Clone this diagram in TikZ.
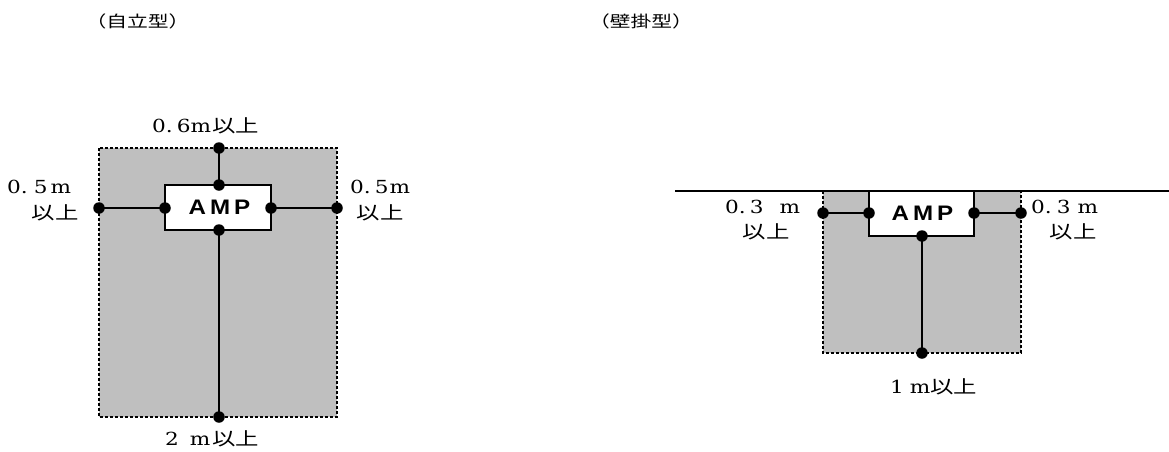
\documentclass[tikz,border=0pt]{standalone}
\usepackage{fontspec}
\setmainfont[FakeStretch=1.2]{DejaVu Serif}
\newfontfamily\jp[FakeStretch=1.3]{Noto Sans CJK JP}
\newfontfamily\ampfont[FakeStretch=1.15]{Liberation Sans}
\definecolor{zone}{RGB}{191,191,191}
\newcommand\jpL{\jp\fontsize{18}{22}\selectfont}
\begin{document}
\begin{tikzpicture}[x=1pt,y=-1pt,
  dot/.style={circle,fill=black,inner sep=0pt,minimum size=11.5pt},
  conn/.style={line width=2pt},
  zoneedge/.style={draw=black,line width=1.3pt,dash pattern=on 3pt off 2pt},
  ampbox/.style={draw=black,fill=white,line width=1.6pt,inner sep=0pt},
  amptext/.style={font=\ampfont\bfseries\fontsize{21}{24}\selectfont,inner sep=0pt},
  lbl/.style={font=\fontsize{18}{20}\selectfont,inner sep=0pt,anchor=base west},
  jl/.style={font=\jpL,inner sep=0pt},
  ttl/.style={font=\jp\fontsize{16}{20}\selectfont,inner sep=0pt},
]
\useasboundingbox (0,0) rectangle (1169,451);

% titles
\node[ttl] (title1) at (137.5,21) {（自立型）};
\node[ttl] (title2) at (641,21) {（壁掛型）};

% ---------- left: free standing ----------
\fill[zone] (99,148) rectangle (337,417);
\draw[zoneedge] (99,148) rectangle (337,417);
\node[ampbox,minimum width=106pt,minimum height=45pt] (amp1) at (218,207.5) {};
\node[amptext] (amp1t) at (219.5,207.5) {A\hspace{4pt}M\hspace{4pt}P};

\node[dot] (L1top) at (219,148) {};
\node[dot] (L1ampT) at (219,185) {};
\node[dot] (L1ampB) at (219,230) {};
\node[dot] (L1bot) at (219,417) {};
\node[dot] (L1left) at (99,208) {};
\node[dot] (L1ampL) at (165,208) {};
\node[dot] (L1ampR) at (271,208) {};
\node[dot] (L1right) at (337,208) {};

\draw[conn] (L1top.center) -- (L1ampT.center);
\draw[conn] (L1ampB.center) -- (L1bot.center);
\draw[conn] (L1left.center) -- (L1ampL.center);
\draw[conn] (L1ampR.center) -- (L1right.center);

\node[lbl] (lt) at (152,132) {0.\hspace{4pt}6m\hspace{1pt}{\jpL 以上}};
\node[lbl] (ll1) at (7,193) {0.\hspace{6pt}5\hspace{3pt}m};
\node[jl] (ll2) at (55,213) {以上};
\node[lbl] (lr1) at (350,193) {0.\hspace{4pt}5\hspace{1pt}m};
\node[jl] (lr2) at (380,213) {以上};
\node[lbl] (lb) at (165,445) {2\hspace{11pt}m\hspace{2pt}{\jpL 以上}};

% ---------- right: wall mounted ----------
\coordinate (wallL) at (675,191);
\coordinate (wallR) at (1169,191);
\fill[zone] (823,191) rectangle (1021,353);
\draw[zoneedge] (823,191) -- (823,353) -- (1021,353) -- (1021,191);
\filldraw[fill=white,draw=black,line width=1.6pt] (869,191) -- (869,236) -- (974,236) -- (974,191);
\node[amptext] (amp2t) at (922.5,213) {A\hspace{4pt}M\hspace{4pt}P};
\draw[conn] (wallL) -- (wallR);

\node[dot] (R1left) at (823,213) {};
\node[dot] (R1ampL) at (869,213) {};
\node[dot] (R1ampR) at (974,213) {};
\node[dot] (R1right) at (1021,213) {};
\node[dot] (R1ampB) at (922,236) {};
\node[dot] (R1bot) at (922,353) {};

\draw[conn] (R1left.center) -- (R1ampL.center);
\draw[conn] (R1ampR.center) -- (R1right.center);
\draw[conn] (R1ampB.center) -- (R1bot.center);

\node[lbl] (rl1) at (725,213) {0.\hspace{4pt}3\hspace{16pt}m};
\node[jl] (rl2) at (766,232) {以上};
\node[lbl] (rr1) at (1031,213) {0.\hspace{5pt}3\hspace{7pt}m};
\node[jl] (rr2) at (1073,232) {以上};
\node[lbl] (rb) at (890,393) {1\hspace{6pt}m{\jpL 以上}};
\end{tikzpicture}
\end{document}
